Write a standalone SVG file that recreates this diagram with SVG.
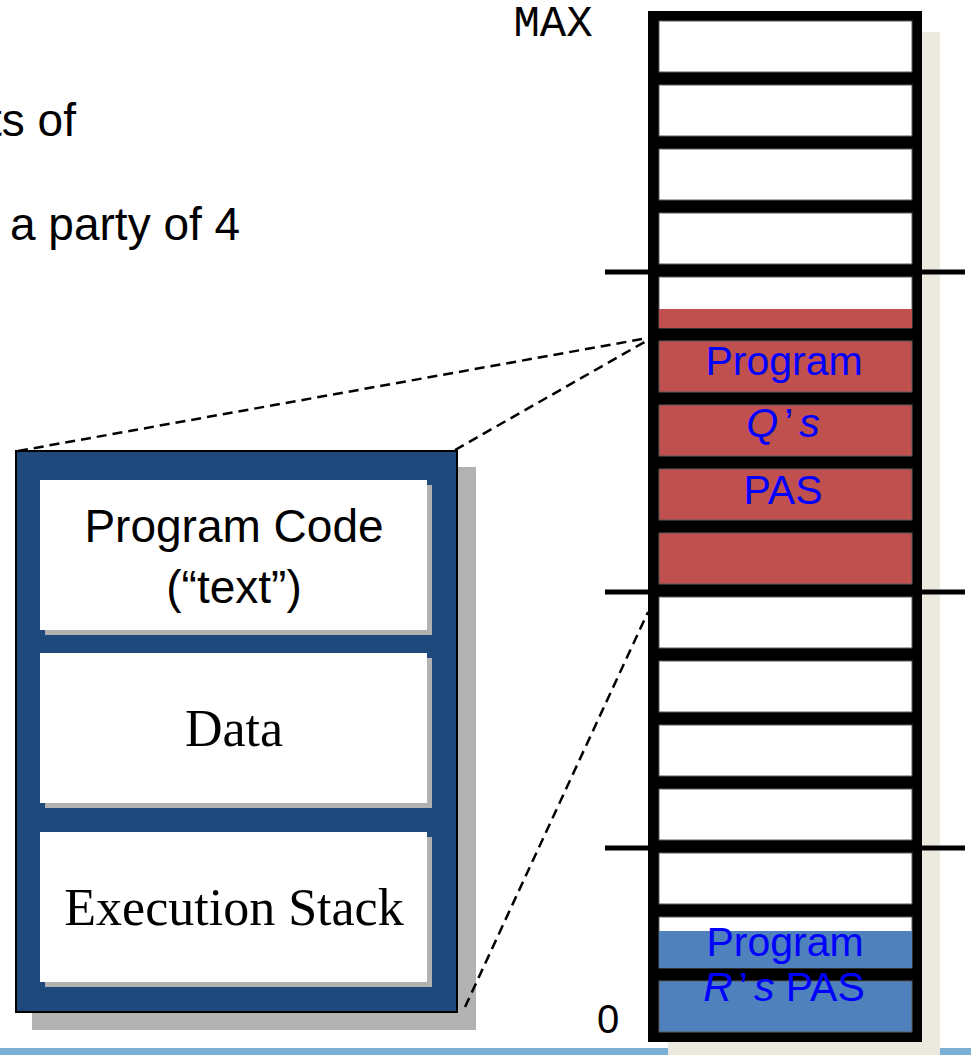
<svg xmlns="http://www.w3.org/2000/svg" width="971" height="1055" viewBox="0 0 971 1055">
  <style>
    .caption { font-family: "Liberation Sans", Arial, sans-serif; font-size: 46px; fill: #000; }
    .cell { fill: #fff; stroke: #5a5a5a; stroke-width: 1; }
    .red { fill: #C0504D; }
    .blue { fill: #4F81BD; }
    .boundary { stroke: #000; stroke-width: 5; }
    .lbl { font-family: "Liberation Sans", Arial, sans-serif; font-size: 41px; fill: #0000FF; text-anchor: middle; }
    .seg { fill: #fff; }
    .segshadow { fill: #B2B2B2; }
    .sans { font-family: "Liberation Sans", Arial, sans-serif; font-size: 46px; fill: #000; text-anchor: middle; }
    .serif { font-family: "Liberation Serif", "Times New Roman", serif; font-size: 52px; fill: #000; text-anchor: middle; }
    .dash { fill: none; stroke: #000; stroke-width: 2.5; stroke-dasharray: 10 6; }
  </style>

  <!-- page background and footer rule -->
  <rect x="0" y="0" width="971" height="1055" fill="#fff"/>
  <rect x="0" y="1048" width="971" height="7" fill="#7BAFD4"/>

  <!-- partial caption text at the top left -->
  <text class="caption" x="-11" y="136">ts of</text>
  <text class="caption" x="10" y="240">a party of 4</text>

  <!-- memory column: address space from 0 to MAX -->
  <g id="memory">
    <rect x="668" y="32" width="272" height="1023" fill="#ECEADF"/>
    <rect x="648" y="11" width="274" height="1031" fill="#000"/>
    <rect class="cell" x="659" y="21" width="253" height="51"/>
    <rect class="cell" x="659" y="85" width="253" height="51"/>
    <rect class="cell" x="659" y="149" width="253" height="51"/>
    <rect class="cell" x="659" y="213" width="253" height="51"/>
    <rect class="cell" x="659" y="277" width="253" height="51"/>
    <rect class="red" x="659" y="309" width="253" height="19"/>
    <rect class="cell red" x="659" y="341" width="253" height="51"/>
    <rect class="cell red" x="659" y="405" width="253" height="51"/>
    <rect class="cell red" x="659" y="469" width="253" height="51"/>
    <rect class="cell red" x="659" y="533" width="253" height="51"/>
    <rect class="cell" x="659" y="597" width="253" height="51"/>
    <rect class="cell" x="659" y="661" width="253" height="51"/>
    <rect class="cell" x="659" y="725" width="253" height="51"/>
    <rect class="cell" x="659" y="789" width="253" height="51"/>
    <rect class="cell" x="659" y="853" width="253" height="51"/>
    <rect class="cell" x="659" y="917" width="253" height="51"/>
    <rect class="blue" x="659" y="931" width="253" height="37"/>
    <rect class="cell blue" x="659" y="981" width="253" height="51"/>

    <!-- region boundaries -->
    <line class="boundary" x1="605" y1="272" x2="965" y2="272"/>
    <line class="boundary" x1="605" y1="592" x2="965" y2="592"/>
    <line class="boundary" x1="605" y1="848" x2="965" y2="848"/>

    <text x="553" y="36" font-family="'Liberation Mono', 'Courier New', monospace" font-size="44" text-anchor="middle" fill="#000">MAX</text>
    <text x="608" y="1033" font-family="'Liberation Sans', Arial, sans-serif" font-size="40" text-anchor="middle" fill="#000">0</text>
  </g>

  <!-- program Q's address space -->
  <g id="pas-q">
    <text class="lbl" x="784" y="375">Program</text>
    <text class="lbl" x="783" y="437"><tspan font-style="italic">Q</tspan><tspan dx="6">’</tspan><tspan dx="6" font-style="italic">s</tspan></text>
    <text class="lbl" x="783" y="504">PAS</text>
  </g>

  <!-- program R's address space -->
  <g id="pas-r">
    <text class="lbl" x="785" y="956">Program</text>
    <text class="lbl" x="784" y="1001"><tspan font-style="italic">R</tspan><tspan dx="6">’</tspan><tspan dx="6" font-style="italic">s</tspan> PAS</text>
  </g>

  <!-- expanded view of a process address space -->
  <g id="pas-detail">
    <rect x="32" y="467" width="444" height="563" fill="#B2B2B2"/>
    <rect x="16" y="451" width="441" height="561" fill="#1F497D" stroke="#000" stroke-width="2"/>

    <g id="seg-code">
      <rect class="segshadow" x="45" y="485" width="387" height="150"/>
      <rect class="seg" x="40" y="480" width="387" height="150"/>
      <text class="sans" x="234" y="542">Program Code</text>
      <text class="sans" x="234" y="603">(“text”)</text>
    </g>
    <g id="seg-data">
      <rect class="segshadow" x="45" y="658" width="387" height="150"/>
      <rect class="seg" x="40" y="653" width="387" height="150"/>
      <text class="serif" x="234" y="746">Data</text>
    </g>
    <g id="seg-stack">
      <rect class="segshadow" x="45" y="837" width="387" height="150"/>
      <rect class="seg" x="40" y="832" width="387" height="150"/>
      <text class="serif" x="234" y="925">Execution Stack</text>
    </g>
  </g>

  <!-- zoom guides from the column to the expanded view -->
  <g id="connectors">
    <line class="dash" x1="18" y1="451" x2="648" y2="338"/>
    <line class="dash" x1="455" y1="450" x2="648" y2="340"/>
    <line class="dash" x1="465" y1="1007" x2="648" y2="612"/>
  </g>
</svg>
